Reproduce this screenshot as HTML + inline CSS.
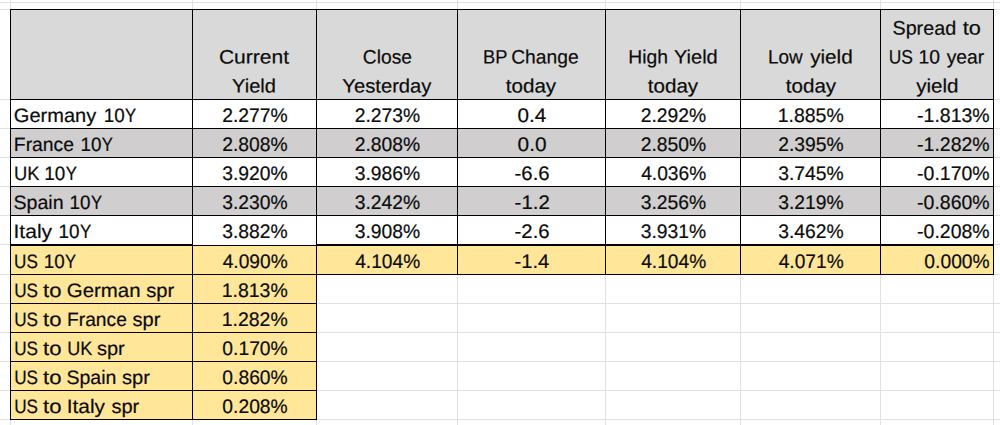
<!DOCTYPE html>
<html lang="en"><head><meta charset="utf-8"><title>Yields</title><style>
html,body{margin:0;padding:0;background:#fff}
body{width:1000px;height:425px;position:relative;overflow:hidden;font-family:"Liberation Sans",sans-serif;}
.r{position:absolute}
.row,.c{margin:0;padding:0;height:0}
.t{position:absolute;display:block;white-space:nowrap;font-size:19.4px;line-height:29px;color:#0c0c0c;transform-origin:0 50%;transform:skewY(0.1deg);-webkit-text-stroke:0.2px #0c0c0c;}
.n{font-size:19.6px}
.y{display:inline-block;font-weight:inherit;transform-origin:0 50%}
</style></head>
<body>
<div class="r" style="left:0px;top:2px;width:1000px;height:1px;background:#e1e1e1"></div>
<div class="r" style="left:0px;top:9px;width:1000px;height:1px;background:#e1e1e1"></div>
<div class="r" style="left:0px;top:99px;width:1000px;height:1px;background:#e1e1e1"></div>
<div class="r" style="left:0px;top:128px;width:1000px;height:1px;background:#e1e1e1"></div>
<div class="r" style="left:0px;top:157px;width:1000px;height:1px;background:#e1e1e1"></div>
<div class="r" style="left:0px;top:186px;width:1000px;height:1px;background:#e1e1e1"></div>
<div class="r" style="left:0px;top:215px;width:1000px;height:1px;background:#e1e1e1"></div>
<div class="r" style="left:0px;top:244px;width:1000px;height:1px;background:#e1e1e1"></div>
<div class="r" style="left:0px;top:274px;width:1000px;height:1px;background:#e1e1e1"></div>
<div class="r" style="left:0px;top:303px;width:1000px;height:1px;background:#e1e1e1"></div>
<div class="r" style="left:0px;top:332px;width:1000px;height:1px;background:#e1e1e1"></div>
<div class="r" style="left:0px;top:361px;width:1000px;height:1px;background:#e1e1e1"></div>
<div class="r" style="left:0px;top:390px;width:1000px;height:1px;background:#e1e1e1"></div>
<div class="r" style="left:0px;top:419px;width:1000px;height:1px;background:#e1e1e1"></div>
<div class="r" style="left:10px;top:0px;width:1px;height:425px;background:#e1e1e1"></div>
<div class="r" style="left:192px;top:0px;width:1px;height:425px;background:#e1e1e1"></div>
<div class="r" style="left:316px;top:0px;width:1px;height:425px;background:#e1e1e1"></div>
<div class="r" style="left:457px;top:0px;width:1px;height:425px;background:#e1e1e1"></div>
<div class="r" style="left:605px;top:0px;width:1px;height:425px;background:#e1e1e1"></div>
<div class="r" style="left:740px;top:0px;width:1px;height:425px;background:#e1e1e1"></div>
<div class="r" style="left:880px;top:0px;width:1px;height:425px;background:#e1e1e1"></div>
<div class="r" style="left:993px;top:0px;width:1px;height:425px;background:#e1e1e1"></div>
<div class="r" style="left:10px;top:9px;width:984px;height:90px;background:#d9d9d9"></div>
<div class="r" style="left:10px;top:99px;width:984px;height:30px;background:#fff"></div>
<div class="r" style="left:10px;top:128px;width:984px;height:30px;background:#d0cece"></div>
<div class="r" style="left:10px;top:157px;width:984px;height:30px;background:#fff"></div>
<div class="r" style="left:10px;top:186px;width:984px;height:30px;background:#d0cece"></div>
<div class="r" style="left:10px;top:215px;width:984px;height:30px;background:#fff"></div>
<div class="r" style="left:10px;top:244px;width:984px;height:31px;background:#ffe699"></div>
<div class="r" style="left:10px;top:274px;width:307px;height:30px;background:#ffe699"></div>
<div class="r" style="left:10px;top:303px;width:307px;height:30px;background:#ffe699"></div>
<div class="r" style="left:10px;top:332px;width:307px;height:30px;background:#ffe699"></div>
<div class="r" style="left:10px;top:361px;width:307px;height:30px;background:#ffe699"></div>
<div class="r" style="left:10px;top:390px;width:307px;height:30px;background:#ffe699"></div>
<div class="r" style="left:10px;top:9px;width:984px;height:1px;background:#000"></div>
<div class="r" style="left:10px;top:99px;width:984px;height:1px;background:#000"></div>
<div class="r" style="left:10px;top:128px;width:984px;height:1px;background:#000"></div>
<div class="r" style="left:10px;top:157px;width:984px;height:1px;background:#000"></div>
<div class="r" style="left:10px;top:186px;width:984px;height:1px;background:#000"></div>
<div class="r" style="left:10px;top:215px;width:984px;height:1px;background:#000"></div>
<div class="r" style="left:10px;top:244px;width:183px;height:2px;background:#000"></div>
<div class="r" style="left:193px;top:244px;width:123px;height:1px;background:#fff"></div>
<div class="r" style="left:192px;top:245px;width:125px;height:1px;background:#000"></div>
<div class="r" style="left:316px;top:244px;width:678px;height:2px;background:#000"></div>
<div class="r" style="left:10px;top:274px;width:984px;height:1px;background:#000"></div>
<div class="r" style="left:10px;top:303px;width:307px;height:1px;background:#000"></div>
<div class="r" style="left:10px;top:332px;width:307px;height:1px;background:#000"></div>
<div class="r" style="left:10px;top:361px;width:307px;height:1px;background:#000"></div>
<div class="r" style="left:10px;top:390px;width:307px;height:1px;background:#000"></div>
<div class="r" style="left:10px;top:419px;width:307px;height:1px;background:#000"></div>
<div class="r" style="left:10px;top:9px;width:1px;height:411px;background:#000"></div>
<div class="r" style="left:192px;top:9px;width:1px;height:411px;background:#000"></div>
<div class="r" style="left:316px;top:9px;width:1px;height:411px;background:#000"></div>
<div class="r" style="left:457px;top:9px;width:1px;height:266px;background:#000"></div>
<div class="r" style="left:605px;top:9px;width:1px;height:266px;background:#000"></div>
<div class="r" style="left:740px;top:9px;width:1px;height:266px;background:#000"></div>
<div class="r" style="left:880px;top:9px;width:1px;height:266px;background:#000"></div>
<div class="r" style="left:993px;top:9px;width:1px;height:266px;background:#000"></div>
<div class="row head">
<div class="c"></div>
<div class="c"><span class="t" style="left:218px;top:42px;transform:translate(0.90px,0.50px) skewY(0.1deg) scaleX(1.0861)">Current</span> <span class="t" style="left:232px;top:71px;transform:translate(0.09px,0.40px) skewY(0.1deg) scaleX(1.0344)">Yield</span></div>
<div class="c"><span class="t" style="left:362px;top:42px;transform:translate(0.78px,0.50px) skewY(0.1deg) scaleX(0.9914)">Close</span> <span class="t" style="left:342px;top:71px;transform:translate(0.29px,0.40px) skewY(0.1deg) scaleX(1.0425)">Yesterday</span></div>
<div class="c"><span class="t" style="left:482px;top:42px;transform:translate(1.00px,0.50px) skewY(0.1deg) scaleX(0.9404)">BP</span> <span class="t" style="left:511px;top:42px;transform:translate(0.18px,0.50px) skewY(0.1deg) scaleX(0.9928)">Change</span> <span class="t" style="left:505px;top:71px;transform:translate(0.76px,0.40px) skewY(0.1deg) scaleX(1.0616)">today</span></div>
<div class="c"><span class="t" style="left:628px;top:42px;transform:translate(0.32px,0.50px) skewY(0.1deg) scaleX(0.9954)">High</span> <span class="t" style="left:673px;top:42px;transform:translate(0.89px,0.50px) skewY(0.1deg) scaleX(1.0344)">Yield</span> <span class="t" style="left:647px;top:71px;transform:translate(0.76px,0.40px) skewY(0.1deg) scaleX(1.0616)">today</span></div>
<div class="c"><span class="t" style="left:767px;top:42px;transform:translate(0.95px,0.50px) skewY(0.1deg) scaleX(0.9766)">Low</span> <span class="t" style="left:810px;top:42px;transform:translate(0.13px,0.50px) skewY(0.1deg) scaleX(1.0683)">yield</span> <span class="t" style="left:785px;top:71px;transform:translate(0.76px,0.40px) skewY(0.1deg) scaleX(1.0616)">today</span></div>
<div class="c"><span class="t" style="left:892px;top:13px;transform:translate(0.46px,0.60px) skewY(0.1deg) scaleX(1.0185)">Spread</span> <span class="t" style="left:962px;top:13px;transform:translate(0.65px,0.60px) skewY(0.1deg) scaleX(1.1201)">to</span> <span class="t" style="left:888px;top:42px;transform:translate(0.76px,0.50px) skewY(0.1deg) scaleX(0.8992)">US</span> <span class="t" style="left:918px;top:42px;transform:translate(0.54px,0.50px) skewY(0.1deg) scaleX(0.9970)">10</span> <span class="t" style="left:946px;top:42px;transform:translate(0.65px,0.50px) skewY(0.1deg) scaleX(0.9929)">year</span> <span class="t" style="left:916px;top:71px;transform:translate(0.13px,0.40px) skewY(0.1deg) scaleX(1.0631)">yield</span></div>
</div>
<div class="row">
<div class="c"><span class="t" style="left:13px;top:100px;transform:translate(0.78px,0.90px) skewY(0.1deg) scaleX(1.0340)">Germany</span> <span class="t" style="left:103px;top:100px;transform:translate(0.66px,0.90px) skewY(0.1deg) scaleX(0.9722)">10<b class="y" style="margin-left:0.08px;transform:scaleX(0.8915)">Y</b></span></div>
<div class="c"><span class="t n" style="left:222px;top:100px;transform:translate(0.22px,0.90px) skewY(0.1deg) scaleX(0.9854)">2.277%</span></div>
<div class="c"><span class="t n" style="left:354px;top:100px;transform:translate(0.72px,0.90px) skewY(0.1deg) scaleX(0.9854)">2.273%</span></div>
<div class="c"><span class="t n" style="left:517px;top:100px;transform:translate(0.57px,0.90px) skewY(0.1deg) scaleX(1.0542)">0.4</span></div>
<div class="c"><span class="t n" style="left:640px;top:100px;transform:translate(0.72px,0.90px) skewY(0.1deg) scaleX(0.9854)">2.292%</span></div>
<div class="c"><span class="t n" style="left:777px;top:100px;transform:translate(0.63px,0.90px) skewY(0.1deg) scaleX(0.9943)">1.885%</span></div>
<div class="c"><span class="t n" style="left:917px;top:100px;transform:translate(0.11px,0.90px) skewY(0.1deg) scaleX(0.9939)">-1.813%</span></div>
</div>
<div class="row">
<div class="c"><span class="t" style="left:13px;top:129px;transform:translate(0.82px,0.90px) skewY(0.1deg) scaleX(0.9976)">France</span> <span class="t" style="left:80px;top:129px;transform:translate(0.46px,0.90px) skewY(0.1deg) scaleX(0.9722)">10<b class="y" style="margin-left:0.08px;transform:scaleX(0.8832)">Y</b></span></div>
<div class="c"><span class="t n" style="left:222px;top:129px;transform:translate(0.22px,0.90px) skewY(0.1deg) scaleX(0.9854)">2.808%</span></div>
<div class="c"><span class="t n" style="left:354px;top:129px;transform:translate(0.72px,0.90px) skewY(0.1deg) scaleX(0.9854)">2.808%</span></div>
<div class="c"><span class="t n" style="left:517px;top:129px;transform:translate(0.56px,0.90px) skewY(0.1deg) scaleX(1.0633)">0.0</span></div>
<div class="c"><span class="t n" style="left:640px;top:129px;transform:translate(0.72px,0.90px) skewY(0.1deg) scaleX(0.9854)">2.850%</span></div>
<div class="c"><span class="t n" style="left:778px;top:129px;transform:translate(0.22px,0.90px) skewY(0.1deg) scaleX(0.9854)">2.395%</span></div>
<div class="c"><span class="t n" style="left:917px;top:129px;transform:translate(0.11px,0.90px) skewY(0.1deg) scaleX(0.9939)">-1.282%</span></div>
</div>
<div class="row">
<div class="c"><span class="t" style="left:13px;top:158px;transform:translate(0.99px,0.90px) skewY(0.1deg) scaleX(0.9478)">UK</span> <span class="t" style="left:44px;top:158px;transform:translate(0.36px,0.90px) skewY(0.1deg) scaleX(0.9722)">10<b class="y" style="margin-left:0.08px;transform:scaleX(0.8915)">Y</b></span></div>
<div class="c"><span class="t n" style="left:222px;top:158px;transform:translate(0.24px,0.90px) skewY(0.1deg) scaleX(0.9850)">3.920%</span></div>
<div class="c"><span class="t n" style="left:354px;top:158px;transform:translate(0.74px,0.90px) skewY(0.1deg) scaleX(0.9850)">3.986%</span></div>
<div class="c"><span class="t n" style="left:514px;top:158px;transform:translate(0.58px,0.90px) skewY(0.1deg) scaleX(1.0399)">-6.6</span></div>
<div class="c"><span class="t n" style="left:641px;top:158px;transform:translate(0.20px,0.90px) skewY(0.1deg) scaleX(0.9780)">4.036%</span></div>
<div class="c"><span class="t n" style="left:778px;top:158px;transform:translate(0.24px,0.90px) skewY(0.1deg) scaleX(0.9850)">3.745%</span></div>
<div class="c"><span class="t n" style="left:917px;top:158px;transform:translate(0.11px,0.90px) skewY(0.1deg) scaleX(0.9939)">-0.170%</span></div>
</div>
<div class="row">
<div class="c"><span class="t" style="left:13px;top:187px;transform:translate(0.47px,0.90px) skewY(0.1deg) scaleX(1.0104)">Spain</span> <span class="t" style="left:69px;top:187px;transform:translate(0.56px,0.90px) skewY(0.1deg) scaleX(0.9722)">10<b class="y" style="margin-left:0.08px;transform:scaleX(0.8832)">Y</b></span></div>
<div class="c"><span class="t n" style="left:222px;top:187px;transform:translate(0.24px,0.90px) skewY(0.1deg) scaleX(0.9850)">3.230%</span></div>
<div class="c"><span class="t n" style="left:354px;top:187px;transform:translate(0.74px,0.90px) skewY(0.1deg) scaleX(0.9850)">3.242%</span></div>
<div class="c"><span class="t n" style="left:514px;top:187px;transform:translate(0.58px,0.90px) skewY(0.1deg) scaleX(1.0416)">-1.2</span></div>
<div class="c"><span class="t n" style="left:640px;top:187px;transform:translate(0.74px,0.90px) skewY(0.1deg) scaleX(0.9850)">3.256%</span></div>
<div class="c"><span class="t n" style="left:778px;top:187px;transform:translate(0.24px,0.90px) skewY(0.1deg) scaleX(0.9850)">3.219%</span></div>
<div class="c"><span class="t n" style="left:917px;top:187px;transform:translate(0.11px,0.90px) skewY(0.1deg) scaleX(0.9939)">-0.860%</span></div>
</div>
<div class="row">
<div class="c"><span class="t" style="left:13px;top:216px;transform:translate(0.50px,0.90px) skewY(0.1deg) scaleX(1.0870)">Italy</span> <span class="t" style="left:58px;top:216px;transform:translate(0.56px,0.90px) skewY(0.1deg) scaleX(0.9722)">10<b class="y" style="margin-left:0.08px;transform:scaleX(0.8999)">Y</b></span></div>
<div class="c"><span class="t n" style="left:222px;top:216px;transform:translate(0.24px,0.90px) skewY(0.1deg) scaleX(0.9850)">3.882%</span></div>
<div class="c"><span class="t n" style="left:354px;top:216px;transform:translate(0.74px,0.90px) skewY(0.1deg) scaleX(0.9850)">3.908%</span></div>
<div class="c"><span class="t n" style="left:514px;top:216px;transform:translate(0.58px,0.90px) skewY(0.1deg) scaleX(1.0399)">-2.6</span></div>
<div class="c"><span class="t n" style="left:640px;top:216px;transform:translate(0.74px,0.90px) skewY(0.1deg) scaleX(0.9850)">3.931%</span></div>
<div class="c"><span class="t n" style="left:778px;top:216px;transform:translate(0.24px,0.90px) skewY(0.1deg) scaleX(0.9850)">3.462%</span></div>
<div class="c"><span class="t n" style="left:917px;top:216px;transform:translate(0.11px,0.90px) skewY(0.1deg) scaleX(0.9939)">-0.208%</span></div>
</div>
<div class="row">
<div class="c"><span class="t" style="left:14px;top:246px;transform:translate(0.08px,0.90px) skewY(0.1deg) scaleX(0.8832)">US</span> <span class="t" style="left:43px;top:246px;transform:translate(0.66px,0.90px) skewY(0.1deg) scaleX(0.9722)">10<b class="y" style="margin-left:0.08px;transform:scaleX(0.8832)">Y</b></span></div>
<div class="c"><span class="t n" style="left:222px;top:246px;transform:translate(0.70px,0.90px) skewY(0.1deg) scaleX(0.9780)">4.090%</span></div>
<div class="c"><span class="t n" style="left:355px;top:246px;transform:translate(0.20px,0.90px) skewY(0.1deg) scaleX(0.9780)">4.104%</span></div>
<div class="c"><span class="t n" style="left:514px;top:246px;transform:translate(0.59px,0.90px) skewY(0.1deg) scaleX(1.0253)">-1.4</span></div>
<div class="c"><span class="t n" style="left:641px;top:246px;transform:translate(0.20px,0.90px) skewY(0.1deg) scaleX(0.9780)">4.104%</span></div>
<div class="c"><span class="t n" style="left:778px;top:246px;transform:translate(0.70px,0.90px) skewY(0.1deg) scaleX(0.9780)">4.071%</span></div>
<div class="c"><span class="t n" style="left:924px;top:246px;transform:translate(0.36px,0.90px) skewY(0.1deg) scaleX(0.9832)">0.000%</span></div>
</div>
<div class="row">
<div class="c"><span class="t" style="left:14px;top:275px;transform:translate(0.18px,0.90px) skewY(0.1deg) scaleX(0.8832)">US</span> <span class="t" style="left:43px;top:275px;transform:translate(0.05px,0.90px) skewY(0.1deg) scaleX(1.1395)">to</span> <span class="t" style="left:66px;top:275px;transform:translate(0.76px,0.90px) skewY(0.1deg) scaleX(1.0534)">German</span> <span class="t" style="left:146px;top:275px;transform:translate(0.13px,0.90px) skewY(0.1deg) scaleX(1.0423)">spr</span></div>
<div class="c"><span class="t n" style="left:221px;top:275px;transform:translate(0.63px,0.90px) skewY(0.1deg) scaleX(0.9943)">1.813%</span></div>
</div>
<div class="row">
<div class="c"><span class="t" style="left:14px;top:304px;transform:translate(0.18px,0.90px) skewY(0.1deg) scaleX(0.8832)">US</span> <span class="t" style="left:43px;top:304px;transform:translate(0.05px,0.90px) skewY(0.1deg) scaleX(1.1395)">to</span> <span class="t" style="left:67px;top:304px;transform:translate(0.03px,0.90px) skewY(0.1deg) scaleX(0.9907)">France</span> <span class="t" style="left:132px;top:304px;transform:translate(0.53px,0.90px) skewY(0.1deg) scaleX(1.0346)">spr</span></div>
<div class="c"><span class="t n" style="left:221px;top:304px;transform:translate(0.63px,0.90px) skewY(0.1deg) scaleX(0.9943)">1.282%</span></div>
</div>
<div class="row">
<div class="c"><span class="t" style="left:14px;top:333px;transform:translate(0.18px,0.90px) skewY(0.1deg) scaleX(0.8832)">US</span> <span class="t" style="left:43px;top:333px;transform:translate(0.05px,0.90px) skewY(0.1deg) scaleX(1.1395)">to</span> <span class="t" style="left:67px;top:333px;transform:translate(0.22px,0.90px) skewY(0.1deg) scaleX(0.9319)">UK</span> <span class="t" style="left:96px;top:333px;transform:translate(0.93px,0.90px) skewY(0.1deg) scaleX(1.0346)">spr</span></div>
<div class="c"><span class="t n" style="left:222px;top:333px;transform:translate(0.36px,0.90px) skewY(0.1deg) scaleX(0.9832)">0.170%</span></div>
</div>
<div class="row">
<div class="c"><span class="t" style="left:14px;top:362px;transform:translate(0.18px,0.90px) skewY(0.1deg) scaleX(0.8832)">US</span> <span class="t" style="left:43px;top:362px;transform:translate(0.05px,0.90px) skewY(0.1deg) scaleX(1.1395)">to</span> <span class="t" style="left:66px;top:362px;transform:translate(0.48px,0.90px) skewY(0.1deg) scaleX(1.0062)">Spain</span> <span class="t" style="left:121px;top:362px;transform:translate(0.93px,0.90px) skewY(0.1deg) scaleX(1.0384)">spr</span></div>
<div class="c"><span class="t n" style="left:222px;top:362px;transform:translate(0.36px,0.90px) skewY(0.1deg) scaleX(0.9832)">0.860%</span></div>
</div>
<div class="row">
<div class="c"><span class="t" style="left:14px;top:391px;transform:translate(0.18px,0.90px) skewY(0.1deg) scaleX(0.8832)">US</span> <span class="t" style="left:43px;top:391px;transform:translate(0.05px,0.90px) skewY(0.1deg) scaleX(1.1395)">to</span> <span class="t" style="left:66px;top:391px;transform:translate(0.72px,0.90px) skewY(0.1deg) scaleX(1.0781)">Italy</span> <span class="t" style="left:111px;top:391px;transform:translate(0.43px,0.90px) skewY(0.1deg) scaleX(1.0346)">spr</span></div>
<div class="c"><span class="t n" style="left:222px;top:391px;transform:translate(0.36px,0.90px) skewY(0.1deg) scaleX(0.9832)">0.208%</span></div>
</div>
</body></html>
